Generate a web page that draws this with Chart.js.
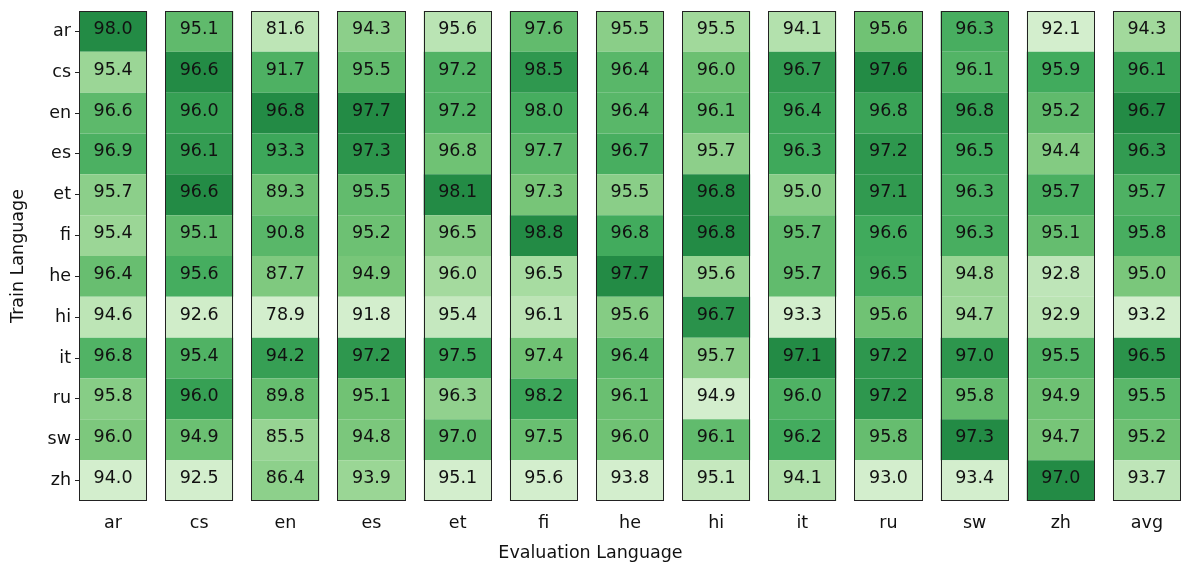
<!DOCTYPE html>
<html>
<head>
<meta charset="utf-8">
<script src="https://cdn.jsdelivr.net/npm/chart.js@4.4.1/dist/chart.umd.min.js"></script>
<style>
  html, body { margin: 0; padding: 0; background: #fff; overflow: hidden; }
  #wrap { width: 1182px; height: 566px; }
</style>
</head>
<body>
<div id="wrap"><canvas id="chart"></canvas></div>
<script>
const evalLangs = ['ar', 'cs', 'en', 'es', 'et', 'fi', 'he', 'hi', 'it', 'ru', 'sw', 'zh', 'avg'];
const trainLangs = ['ar', 'cs', 'en', 'es', 'et', 'fi', 'he', 'hi', 'it', 'ru', 'sw', 'zh'];

// one row per training language, columns follow evalLangs
const fromAr = [98.0, 95.1, 81.6, 94.3, 95.6, 97.6, 95.5, 95.5, 94.1, 95.6, 96.3, 92.1, 94.3];
const fromCs = [95.4, 96.6, 91.7, 95.5, 97.2, 98.5, 96.4, 96.0, 96.7, 97.6, 96.1, 95.9, 96.1];
const fromEn = [96.6, 96.0, 96.8, 97.7, 97.2, 98.0, 96.4, 96.1, 96.4, 96.8, 96.8, 95.2, 96.7];
const fromEs = [96.9, 96.1, 93.3, 97.3, 96.8, 97.7, 96.7, 95.7, 96.3, 97.2, 96.5, 94.4, 96.3];
const fromEt = [95.7, 96.6, 89.3, 95.5, 98.1, 97.3, 95.5, 96.8, 95.0, 97.1, 96.3, 95.7, 95.7];
const fromFi = [95.4, 95.1, 90.8, 95.2, 96.5, 98.8, 96.8, 96.8, 95.7, 96.6, 96.3, 95.1, 95.8];
const fromHe = [96.4, 95.6, 87.7, 94.9, 96.0, 96.5, 97.7, 95.6, 95.7, 96.5, 94.8, 92.8, 95.0];
const fromHi = [94.6, 92.6, 78.9, 91.8, 95.4, 96.1, 95.6, 96.7, 93.3, 95.6, 94.7, 92.9, 93.2];
const fromIt = [96.8, 95.4, 94.2, 97.2, 97.5, 97.4, 96.4, 95.7, 97.1, 97.2, 97.0, 95.5, 96.5];
const fromRu = [95.8, 96.0, 89.8, 95.1, 96.3, 98.2, 96.1, 94.9, 96.0, 97.2, 95.8, 94.9, 95.5];
const fromSw = [96.0, 94.9, 85.5, 94.8, 97.0, 97.5, 96.0, 96.1, 96.2, 95.8, 97.3, 94.7, 95.2];
const fromZh = [94.0, 92.5, 86.4, 93.9, 95.1, 95.6, 93.8, 95.1, 94.1, 93.0, 93.4, 97.0, 93.7];

const scores = [fromAr, fromCs, fromEn, fromEs, fromEt, fromFi, fromHe, fromHi, fromIt, fromRu, fromSw, fromZh];

// matplotlib "Greens"
const greens = ['#f7fcf5', '#e5f5e0', '#c7e9c0', '#a1d99b', '#74c476', '#41ab5d', '#238b45', '#006d2c', '#00441b'];

function hexToRgb(h) {
    return [parseInt(h.slice(1, 3), 16), parseInt(h.slice(3, 5), 16), parseInt(h.slice(5, 7), 16)];
}

function greenAt(t) {
    let p = t * (greens.length - 1);
    let i = Math.min(Math.floor(p), greens.length - 2);
    let f = p - i;
    let a = hexToRgb(greens[i]);
    let b = hexToRgb(greens[i + 1]);
    let c = a.map((v, k) => Math.round(v + (b[k] - v) * f));
    return 'rgb(' + c.join(',') + ')';
}

const FONT = '"DejaVu Sans", sans-serif';
const FSIZE = 17.5;

// each evaluation column is coloured on its own scale
let datasets = evalLangs.map((lang, c) => {
    let col = scores.map(row => row[c]);
    let lo = Math.min(...col);
    let hi = Math.max(...col);
    return {
        label: lang,
        data: trainLangs.map((t, r) => ({ x: c, y: [r, r + 1], v: scores[r][c] })),
        backgroundColor: col.map(v => greenAt(0.2 + 0.55 * (v - lo) / (hi - lo))),
        borderWidth: 0,
        grouped: false,
        barPercentage: 0.79,
        categoryPercentage: 1.0
    };
});

const cellText = {
    id: 'cellText',
    afterDatasetsDraw(chart) {
        let ctx = chart.ctx;
        let ys = chart.scales.y;
        ctx.save();
        ctx.font = FSIZE + 'px ' + FONT;
        ctx.textAlign = 'center';
        ctx.textBaseline = 'middle';
        ctx.fillStyle = '#111';
        chart.data.datasets.forEach((ds, i) => {
            let meta = chart.getDatasetMeta(i);
            meta.data.forEach((el, j) => {
                ctx.fillText(ds.data[j].v.toFixed(1), el.x, (el.y + el.base) / 2 - 2);
            });
            // outline round the whole column
            let el = meta.data[0];
            let left = Math.round(el.x - el.width / 2) + 0.5;
            let right = Math.round(el.x + el.width / 2) - 0.5;
            let top = Math.round(ys.getPixelForValue(0)) + 0.5;
            let bottom = Math.round(ys.getPixelForValue(trainLangs.length)) - 0.5;
            ctx.strokeStyle = '#222';
            ctx.lineWidth = 1;
            ctx.strokeRect(left, top, right - left, bottom - top);
        });
        ctx.restore();
    }
};

let ctx = document.getElementById('chart').getContext('2d');
let chart = new Chart(ctx, {
    type: 'bar',
    data: { datasets: datasets },
    plugins: [cellText],
    options: {
        responsive: true,
        maintainAspectRatio: false,
        animation: false,
        layout: { autoPadding: false, padding: { top: 11, right: 1, left: 0, bottom: 0 } },
        plugins: {
            legend: { display: false },
            tooltip: { enabled: false },
            title: {
                display: true,
                position: 'bottom',
                text: 'Evaluation Language',
                color: '#111',
                font: { family: FONT, size: FSIZE, weight: 'normal' },
                padding: { top: 6, bottom: 2 }
            }
        },
        scales: {
            x: {
                type: 'linear',
                offset: false,
                min: -0.395,
                max: evalLangs.length - 1 + 0.395,
                afterBuildTicks: s => { s.ticks = evalLangs.map((_, i) => ({ value: i })); },
                afterFit: s => { s.height = 36; s.paddingLeft = 0; s.paddingRight = 0; },
                grid: { display: false, offset: false },
                border: { display: false },
                ticks: {
                    autoSkip: false,
                    maxRotation: 0,
                    padding: 4,
                    color: '#111',
                    font: { family: FONT, size: FSIZE },
                    callback: v => evalLangs[v]
                }
            },
            y: {
                type: 'linear',
                reverse: true,
                min: 0,
                max: trainLangs.length,
                afterBuildTicks: s => { s.ticks = trainLangs.map((_, i) => ({ value: i + 0.5 })); },
                afterFit: s => { s.width = 79; s.paddingTop = 0; s.paddingBottom = 0; },
                grid: { drawOnChartArea: false, drawTicks: true, tickLength: 4, color: '#222' },
                border: { display: false },
                ticks: {
                    autoSkip: false,
                    padding: 4,
                    color: '#111',
                    font: { family: FONT, size: FSIZE },
                    callback: v => trainLangs[Math.floor(v)]
                },
                title: {
                    display: true,
                    text: 'Train Language',
                    color: '#111',
                    font: { family: FONT, size: FSIZE },
                    padding: { top: 8, bottom: 0 }
                }
            }
        }
    }
});
</script>
</body>
</html>
